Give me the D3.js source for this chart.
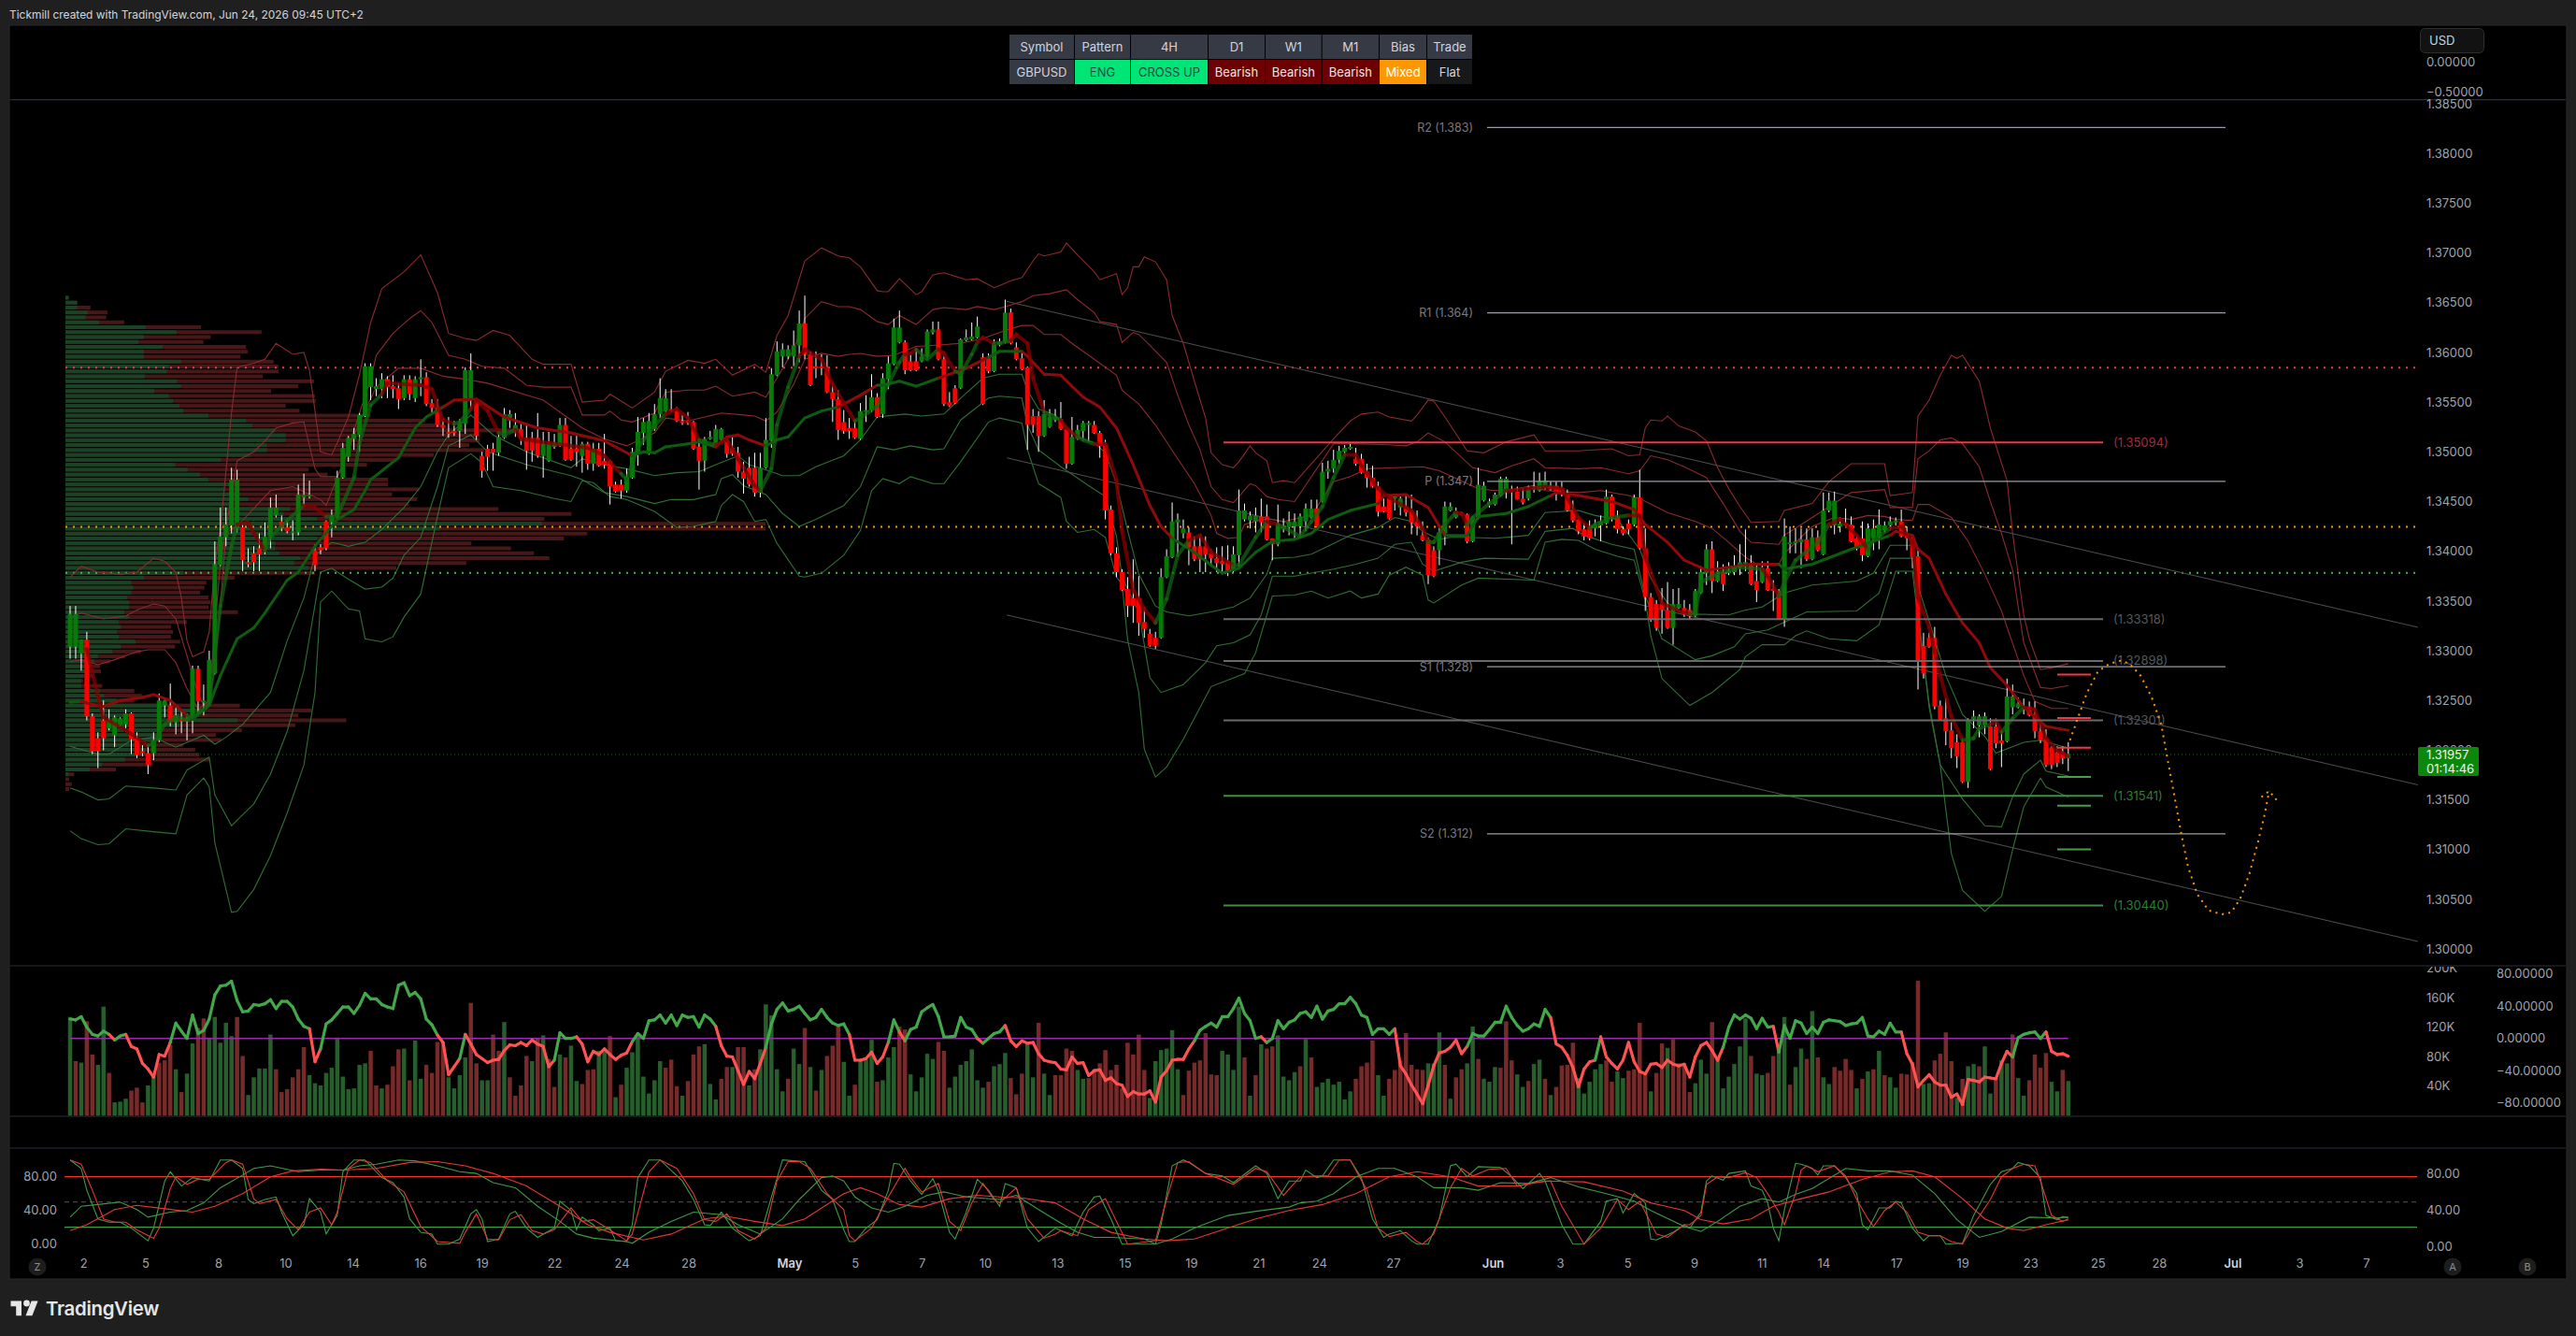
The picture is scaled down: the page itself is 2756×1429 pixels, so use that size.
<!DOCTYPE html>
<html><head><meta charset="utf-8"><title>GBPUSD 4H</title>
<style>html,body{margin:0;background:#1f1f1f}svg{display:block}text{font-family:Inter,"Noto Sans",sans-serif}</style>
<script src="https://cdn.jsdelivr.net/npm/d3@7"></script></head><body><svg id="chart" width="2756" height="1429"></svg>
<script>
// GBPUSD 4H candles as [open, high, low, close] in 1/10000ths of a dollar
const candlesApril=[[13304,13345,13292,13337],[13304,13345,13292,13337],[13297,13311,13280,13311],[13311,13319,13230,13234],[13234,13237,13196,13199],[13212,13218,13182,13199],[13230,13250,13200,13212],[13222,13241,13220,13230],[13215,13235,13203,13233],[13225,13233,13224,13232],
[13226,13241,13222,13237],[13237,13238,13196,13211],[13212,13218,13192,13195],[13199,13205,13194,13197],[13197,13205,13176,13185],[13197,13218,13190,13210],[13210,13257,13208,13250],[13245,13253,13233,13250],[13245,13267,13224,13228],[13228,13243,13216,13235],
[13231,13241,13217,13229],[13231,13237,13210,13229],[13231,13285,13217,13282],[13282,13285,13235,13249],[13248,13266,13235,13250],[13248,13300,13246,13291],[13277,13410,13276,13387],[13386,13444,13385,13415],[13414,13444,13405,13427],[13426,13484,13418,13472],
[13423,13482,13419,13472],[13424,13427,13380,13391],[13389,13403,13384,13387],[13398,13405,13380,13389],[13403,13418,13380,13397],[13402,13429,13397,13415],[13415,13454,13403,13444],[13436,13457,13434,13444],[13430,13436,13420,13424],[13424,13431,13418,13420],
[13419,13431,13411,13420],[13419,13467,13416,13457],[13454,13478,13446,13457],[13455,13471,13453,13457],[13401,13407,13380,13386],[13404,13407,13397,13401],[13430,13431,13401,13403],[13429,13442,13414,13436],[13435,13481,13434,13474],[13474,13509,13473,13504],
[13495,13516,13490,13514],[13513,13524,13502,13518],[13517,13539,13500,13537],[13536,13589,13535,13586],[13565,13589,13552,13586],[13563,13574,13556,13566],[13563,13579,13554,13573],[13573,13576,13554,13565],[13566,13577,13554,13563],[13564,13569,13543,13553],
[13554,13577,13552,13573],[13573,13577,13552,13558],[13554,13576,13550,13573],[13573,13593,13556,13575],[13575,13580,13546,13548],[13549,13553,13539,13544],[13545,13553,13525,13527],[13527,13533,13516,13524],[13520,13535,13514,13518],[13521,13531,13516,13519],
[13521,13533,13504,13530],[13528,13585,13518,13582],[13552,13599,13544,13582],[13553,13554,13512,13516],[13496,13500,13474,13481],[13503,13507,13481,13495],[13503,13509,13481,13499],[13499,13518,13496,13515],[13514,13544,13513,13538],[13531,13542,13524,13538],
[13522,13539,13515,13527],[13523,13528,13507,13514],[13514,13528,13482,13501],[13514,13520,13490,13501],[13514,13539,13494,13496],[13496,13520,13474,13508],[13491,13520,13490,13508],[13505,13518,13503,13509],[13506,13534,13505,13527],[13527,13534,13491,13492],
[13503,13516,13491,13492],[13503,13516,13485,13500],[13496,13510,13479,13508],[13508,13510,13482,13488],[13488,13509,13481,13503],[13503,13509,13485,13486],[13491,13518,13483,13487],[13491,13492,13447,13465],[13467,13470,13459,13460],[13467,13472,13453,13461],
[13461,13483,13459,13475],[13474,13504,13473,13500],[13499,13535,13486,13520],[13519,13534,13507,13530],[13498,13539,13497,13531],[13523,13548,13521,13538],[13538,13574,13534,13554],[13541,13563,13540,13554],[13543,13563,13540,13541],[13541,13545,13530,13531],
[13531,13537,13527,13529],[13531,13540,13527,13529],[13530,13531,13502,13503],[13505,13510,13462,13491],[13491,13515,13480,13513],[13513,13521,13512,13515],[13506,13527,13505,13523],[13512,13524,13509,13523],[13512,13515,13494,13498],[13504,13515,13496,13498],
[13499,13505,13474,13480],[13480,13490,13458,13473],[13484,13495,13465,13467],[13484,13499,13455,13459],[13459,13499,13454,13484],[13484,13534,13483,13512],[13511,13584,13504,13578],[13577,13611,13576,13601],[13596,13609,13585,13603]];
const candlesMay=[[13596,13607,13593,13603],[13596,13622,13586,13607],[13607,13642,13590,13629],[13629,13657,13593,13598],[13598,13601,13566,13567],[13586,13601,13574,13584],[13586,13598,13577,13584],[13585,13597,13559,13560],[13560,13568,13530,13553],[13553,13562,13512,13522],
[13530,13542,13518,13521],[13524,13534,13513,13521],[13524,13532,13513,13514],[13513,13549,13512,13541],[13540,13557,13530,13542],[13542,13578,13540,13555],[13555,13559,13534,13535],[13538,13579,13534,13574],[13573,13596,13563,13589],[13588,13634,13587,13625],
[13610,13642,13609,13625],[13610,13612,13578,13582],[13591,13598,13581,13582],[13591,13604,13581,13582],[13591,13604,13590,13596],[13596,13623,13595,13621],[13620,13631,13618,13623],[13623,13631,13592,13593],[13593,13596,13546,13548],[13550,13560,13545,13546],
[13564,13567,13548,13549],[13564,13614,13563,13613],[13612,13623,13611,13615],[13613,13630,13612,13616],[13615,13636,13614,13626],[13595,13599,13547,13548],[13595,13599,13579,13581],[13581,13613,13580,13608],[13608,13614,13606,13611],[13610,13653,13609,13640],
[13640,13644,13608,13609],[13605,13610,13592,13593],[13594,13601,13582,13583],[13585,13586,13502,13527],[13536,13543,13519,13527],[13536,13541,13500,13516],[13516,13552,13515,13538],[13525,13543,13524,13535],[13532,13543,13530,13535],[13533,13550,13522,13523],
[13523,13524,13483,13488],[13488,13535,13487,13515],[13513,13527,13512,13522],[13521,13531,13513,13529],[13527,13531,13510,13529],[13527,13531,13518,13519],[13519,13521,13494,13506],[13507,13512,13432,13441],[13442,13446,13396,13398],[13398,13404,13374,13379],
[13379,13382,13360,13361],[13362,13374,13334,13345],[13353,13392,13328,13345],[13353,13375,13315,13328],[13329,13344,13313,13322],[13317,13322,13304,13305],[13313,13319,13302,13305],[13313,13383,13312,13374],[13374,13402,13373,13395],[13394,13449,13393,13430],
[13429,13438,13394,13432],[13418,13432,13413,13423],[13419,13424,13386,13404],[13405,13415,13390,13392],[13405,13415,13379,13392],[13405,13415,13379,13397],[13398,13402,13386,13393],[13393,13404,13379,13388],[13390,13405,13378,13387],[13390,13406,13375,13380],
[13380,13405,13379,13397],[13396,13462,13382,13441],[13432,13448,13430,13441],[13431,13440,13423,13436],[13430,13444,13419,13436],[13435,13453,13419,13429],[13435,13447,13411,13412],[13413,13413,13391,13407],[13407,13447,13405,13427],[13422,13433,13419,13425],
[13424,13440,13416,13430],[13425,13438,13411,13430],[13425,13438,13413,13435],[13430,13448,13420,13443],[13434,13452,13433,13443],[13443,13452,13424,13425],[13450,13489,13449,13480],[13480,13491,13473,13483],[13483,13502,13479,13492],[13492,13506,13488,13501],
[13500,13507,13496,13504],[13503,13508,13502,13505],[13493,13504,13486,13488],[13493,13498,13478,13479],[13480,13488,13464,13474],[13474,13486,13464,13465],[13465,13470,13435,13440],[13445,13453,13439,13440],[13454,13457,13432,13433],[13453,13457,13441,13455],
[13444,13455,13436,13453],[13445,13456,13435,13439],[13440,13457,13417,13429],[13430,13441,13416,13425],[13416,13430,13410,13411],[13412,13414,13367,13376],[13401,13405,13374,13375]];
const candlesJune=[[13401,13425,13386,13419],[13418,13450,13406,13445],[13441,13449,13440,13445],[13434,13444,13433,13440],[13439,13440,13436,13437],[13437,13438,13408,13410],[13410,13435,13409,13434],[13433,13484,13432,13467],[13451,13470,13450,13466],[13447,13453,13444,13450],
[13447,13459,13446,13457],[13456,13475,13455,13473],[13461,13475,13453,13473],[13462,13466,13407,13460],[13460,13465,13452,13452],[13453,13463,13447,13449],[13453,13466,13451,13462],[13462,13480,13459,13464],[13461,13479,13460,13471],[13464,13480,13462,13471],
[13466,13470,13461,13462],[13466,13470,13451,13460],[13464,13470,13455,13458],[13458,13462,13440,13441],[13442,13451,13429,13431],[13432,13435,13417,13420],[13422,13428,13411,13415],[13425,13431,13411,13413],[13423,13432,13415,13427],[13426,13436,13410,13430],
[13428,13462,13427,13455],[13455,13457,13430,13434],[13435,13441,13418,13422],[13422,13425,13416,13418],[13428,13432,13417,13422],[13427,13457,13425,13454],[13454,13482,13402,13403],[13403,13423,13340,13354],[13354,13358,13329,13332],[13347,13351,13320,13323],
[13347,13363,13317,13341],[13341,13369,13322,13323],[13323,13362,13306,13347],[13343,13363,13342,13347],[13343,13351,13334,13336],[13341,13347,13331,13335],[13335,13362,13334,13360],[13358,13385,13357,13379],[13378,13407,13366,13402],[13402,13410,13358,13370],
[13370,13390,13369,13377],[13379,13387,13360,13367],[13378,13389,13376,13381],[13379,13396,13376,13385],[13384,13407,13376,13389],[13387,13422,13380,13389],[13388,13396,13366,13367],[13370,13387,13349,13361],[13369,13390,13368,13383],[13383,13390,13360,13361],
[13362,13371,13340,13360],[13360,13362,13331,13332],[13332,13433,13324,13415],[13407,13425,13398,13409],[13408,13423,13398,13410],[13409,13423,13383,13412],[13412,13423,13390,13392],[13392,13423,13391,13414],[13414,13421,13400,13401],[13397,13459,13396,13441],
[13441,13459,13439,13451],[13426,13460,13417,13451],[13425,13434,13419,13428],[13428,13443,13425,13426],[13427,13435,13409,13410],[13413,13416,13401,13403],[13413,13430,13390,13396],[13395,13428,13394,13423],[13413,13432,13401,13423],[13414,13442,13402,13427],
[13421,13430,13419,13426],[13426,13435,13421,13430],[13429,13434,13426,13431],[13430,13442,13414,13415],[13417,13425,13401,13413],[13414,13416,13383,13394],[13395,13401,13261,13290],[13305,13318,13272,13277],[13313,13318,13303,13304],[13313,13324,13241,13244],
[13245,13250,13230,13231],[13232,13252,13205,13219],[13220,13228,13192,13202],[13208,13216,13182,13194],[13208,13210,13167,13168],[13168,13232,13162,13231],[13231,13240,13222,13234],[13225,13236,13213,13234],[13225,13238,13216,13234],[13224,13232,13180,13181],
[13224,13232,13202,13207],[13210,13220,13183,13207],[13209,13272,13208,13254],[13243,13266,13236,13254],[13243,13253,13242,13247],[13242,13252,13236,13243],[13244,13249,13234,13235],[13236,13249,13212,13219],[13219,13226,13207,13210],[13212,13221,13183,13185],
[13203,13204,13181,13185],[13198,13204,13183,13187],[13198,13204,13186,13192],[13192,13208,13179,13196]];

// Volume in thousands per bar: positive prints green, negative prints red
const volumeSigned=[134,-74,72,-128,-83,69,148,-58,18,19,23,-34,-38,-18,41,54,-72,-75,-96,63,-32,57,98,-119,-132,105,134,99,126,108,-134,-81,28,52,64,64,110,-63,-32,-36,-52,-63,-93,55,44,41,58,65,106,53,36,37,69,71,-88,-41,37,-42,-67,-90,91,-48,102,50,-69,-58,-100,-100,52,37,55,79,-153,-71,48,48,-110,-88,127,-52,-27,-41,-81,74,-105,109,-77,-39,83,-79,95,47,-43,-62,-63,88,88,-108,25,-42,65,86,108,53,30,48,74,-65,-76,-40,27,-47,-83,-94,97,43,22,-50,-66,66,-93,-93,41,-63,90,151,136,63,33,-50,91,70,-119,66,-34,62,-81,-95,-122,
73,27,-42,76,76,103,-46,48,79,93,-121,-117,56,33,52,84,77,-100,-88,38,53,69,74,90,48,38,-46,67,70,85,-51,-29,-57,98,52,-126,57,28,-55,-55,-91,-88,62,50,-51,-63,-71,-89,-62,-69,-37,-99,-83,-110,-62,24,74,89,91,116,63,-28,-61,-72,-75,-112,-56,-55,88,83,62,148,-79,27,-55,97,-91,-94,109,53,48,59,-67,104,-79,39,45,50,42,46,22,33,-50,-67,-72,-102,55,27,-50,-62,-75,-112,-69,-63,-62,71,71,113,-69,23,-52,-63,71,121,-77,50,46,66,-65,-128,-75,56,39,-47,70,76,-50,28,-39,-68,-69,-99,51,30,46,63,70,-75,-46,60,51,-61,-63,-126,-58,33,-58,-98,92,-104,-71,
-71,-32,44,76,57,-127,77,37,53,70,94,132,-81,57,55,-58,-81,90,134,-42,66,91,-77,142,-79,52,43,-66,-61,-77,-62,37,-50,60,-63,88,-55,52,38,-57,-56,-73,-183,43,44,-75,-84,-113,-74,24,-50,67,70,-67,94,30,-51,75,71,-110,51,27,-48,-83,-65,-85,46,33,-62,47];

// Momentum oscillator, one value per bar
const oscillator=[24,23,27,14,5,3,9,5,-2,3,5,-10,-13,-31,-38,-48,-20,-22,-5,19,9,0,29,6,10,24,54,65,66,71,47,33,34,42,41,43,48,37,46,46,39,24,15,12,-29,-13,18,23,31,39,39,31,41,56,49,49,42,39,37,66,69,53,57,49,24,17,4,-5,-45,-35,-25,5,-7,-20,-25,-30,-27,-26,-15,-8,-9,-5,-9,-2,-7,-10,-35,-27,7,0,0,2,-7,-29,-16,-20,-13,-20,-26,-21,-18,-4,6,0,22,23,29,19,29,16,29,26,27,14,29,24,15,-9,-22,-23,-40,-57,-41,-50,-31,-11,18,36,44,34,36,40,31,23,26,36,26,19,16,
18,5,-27,-27,-25,-17,-31,-23,-5,23,8,-3,11,14,33,38,42,27,2,2,3,26,14,11,0,-6,0,6,8,16,-3,-10,-3,-6,-5,-19,-27,-29,-30,-38,-39,-23,-31,-30,-46,-40,-39,-52,-49,-56,-58,-72,-66,-69,-69,-65,-79,-48,-40,-27,-26,-26,-13,-3,10,15,19,14,27,27,37,50,31,22,0,2,-5,0,22,12,20,23,31,33,26,40,24,34,36,43,43,51,43,29,26,5,12,12,5,12,-34,-44,-58,-69,-81,-58,-34,-18,-16,-11,-2,-19,-10,6,3,3,11,20,20,40,26,16,9,12,18,15,36,26,-7,-11,-21,-36,-60,-38,-29,-27,2,-23,-31,-38,-27,-5,-29,-41,-44,-32,-31,-36,-27,-32,-34,
-32,-48,-23,-9,-5,-15,-27,-11,14,29,24,29,25,12,25,14,15,-17,16,0,22,19,6,14,6,20,23,22,21,16,18,19,26,3,2,9,5,19,8,8,-19,-32,-60,-52,-45,-54,-58,-58,-73,-69,-82,-51,-52,-54,-48,-49,-50,-31,-16,-23,1,5,7,8,0,8,-16,-20,-19,-22];

// Stochastic lines as [bar, value]
const stochFastK=[[0,100],[2,90],[3,64],[5,30],[7,26],[9,26],[11,19],[14,4],[15,19],[17,75],[18,86],[20,69],[22,79],[25,75],[27,100],[29,100],[31,90],[32,53],[33,48],[35,53],[37,56],[38,38],[40,10],[42,23],[43,54],[45,38],[46,12],[48,34],[49,86],[51,100],[53,100],[56,79],[58,73],[60,56],[61,30],[63,14],[65,12],[66,0],[68,0],[70,6],[72,36],[73,41],[74,30],[75,3],[77,6],[79,36],[80,39],[82,19],[84,8],[87,19],[88,51],[90,40],[91,17],[92,32],[94,23],[95,16],[97,19],[98,4],[100,3],[101,23],[102,79],[104,100],[106,100],[110,75],[112,53],[114,23],[115,22],[117,38],[119,19],[122,4],[124,10],[126,56],[128,100],[130,99],[132,98],[135,64],[137,53],[139,17],[140,3],[141,3],[143,19],[145,29],[147,64],[148,96],[149,95],[151,75],[153,59],[155,78],[156,63],[158,14],[159,6],[161,38],[163,77],[165,64],[167,45],[168,72],[170,67],[172,19],[174,3],[177,19],[180,10],[182,38],[184,56],[185,57],[187,30],[189,0],[191,0],[195,0],[196,23],[198,93],[200,100],[201,97],[204,84],[207,81],[209,73],[213,93],[215,84],[217,54],[219,75],[221,75],[222,88],[224,79],[225,81],[227,100],[230,100],[232,79],[234,30],[236,8],[237,12],[239,16],[241,4],[242,0],[244,0],[246,30],[248,93],[249,95],[251,80],[253,92],[257,91],[259,80],[261,66],[264,84],[265,75],[268,23],[270,0],[272,0],[275,27],[276,51],[278,54],[279,37],[281,60],[283,49],[284,6],[285,5],[288,14],[290,23],[291,19],[293,38],[294,75],[295,81],[297,76],[298,84],[301,87],[302,69],[304,64],[305,49],[306,19],[307,4],[308,41],[310,96],[311,95],[313,90],[314,82],[315,93],[317,93],[319,79],[321,60],[322,23],[323,17],[325,43],[327,43],[328,51],[329,49],[331,19],[333,4],[334,10],[336,10],[337,0],[340,1],[342,34],[345,71],[347,86],[349,90],[350,97],[352,93],[354,79],[355,34],[357,29],[358,33],[359,31]];
const stochFastD=[[0,100],[2,95],[4,64],[6,30],[8,26],[10,26],[12,17],[15,7],[16,19],[18,66],[19,80],[21,71],[23,77],[25,77],[28,97],[29,100],[31,95],[33,54],[34,48],[37,53],[39,30],[41,17],[43,38],[45,43],[47,23],[48,38],[50,90],[52,100],[54,97],[57,75],[60,62],[63,21],[66,3],[70,1],[71,14],[73,36],[75,6],[77,5],[79,29],[81,35],[83,16],[85,12],[87,17],[90,43],[92,27],[94,29],[96,21],[100,4],[101,12],[104,86],[106,100],[109,90],[112,60],[114,29],[116,27],[118,36],[120,16],[123,6],[125,19],[127,75],[129,98],[131,98],[133,90],[136,60],[139,41],[140,10],[141,4],[144,19],[147,56],[150,90],[151,79],[153,62],[156,72],[158,27],[160,16],[162,49],[164,72],[166,53],[167,49],[170,67],[172,30],[175,7],[177,12],[178,16],[181,10],[183,41],[186,54],[188,27],[190,0],[195,4],[197,53],[199,97],[201,98],[204,84],[209,71],[213,90],[215,86],[218,58],[221,80],[224,81],[226,81],[228,100],[230,100],[233,64],[235,19],[237,9],[240,14],[242,3],[243,0],[245,12],[248,67],[250,90],[252,81],[255,89],[258,90],[260,69],[263,73],[266,75],[268,45],[272,0],[275,19],[278,53],[280,41],[282,51],[285,12],[287,8],[290,23],[291,23],[293,34],[294,71],[296,80],[298,79],[301,85],[303,79],[305,60],[307,38],[308,23],[310,60],[311,88],[312,93],[314,86],[317,93],[319,81],[321,53],[323,30],[324,21],[326,40],[328,50],[330,38],[332,14],[334,10],[336,10],[338,3],[340,0],[342,23],[345,53],[347,80],[349,90],[351,95],[353,93],[354,75],[356,34],[358,27],[359,30]];
const stochSlowK=[[0,32],[2,45],[5,47],[9,50],[12,41],[14,32],[18,38],[21,40],[24,49],[27,67],[31,82],[33,90],[36,93],[41,86],[45,88],[49,88],[52,93],[55,95],[59,100],[62,99],[66,93],[70,86],[73,84],[76,73],[80,67],[84,45],[88,27],[91,12],[94,7],[100,3],[101,1],[104,14],[108,27],[112,38],[117,35],[120,23],[124,12],[128,30],[131,53],[135,79],[137,81],[139,75],[141,56],[144,43],[147,38],[150,45],[154,58],[157,62],[161,56],[167,53],[170,58],[174,41],[178,25],[181,14],[184,8],[187,8],[193,6],[195,0],[198,6],[202,19],[208,34],[213,39],[219,44],[221,49],[224,51],[227,60],[231,80],[235,90],[238,90],[242,80],[245,67],[250,67],[253,64],[257,73],[262,72],[266,79],[271,68],[276,60],[281,51],[284,40],[290,21],[293,15],[296,27],[300,45],[304,54],[307,50],[310,59],[313,66],[319,90],[323,87],[327,87],[331,82],[335,60],[339,29],[343,8],[347,15],[352,32],[357,31],[359,32]];
const stochSlowD=[[0,16],[3,23],[8,41],[12,46],[17,42],[22,38],[26,45],[31,60],[36,80],[40,87],[45,89],[49,88],[55,90],[61,97],[66,98],[71,93],[76,84],[82,69],[88,45],[93,23],[97,14],[103,5],[108,12],[114,30],[118,33],[123,27],[128,22],[132,30],[139,60],[142,67],[145,60],[149,47],[153,44],[158,54],[163,58],[167,56],[171,55],[177,49],[182,30],[187,14],[193,6],[197,4],[202,6],[208,19],[213,30],[219,40],[225,47],[231,60],[237,80],[242,86],[248,80],[253,69],[260,69],[265,75],[272,74],[279,63],[284,49],[290,40],[293,29],[297,24],[302,30],[306,45],[311,54],[316,62],[322,77],[327,86],[331,87],[335,80],[340,54],[344,30],[348,19],[351,16],[355,23],[359,29]];

// Volatility envelopes as [bar, price in 1/10000ths]
const bandUpper3=[[0,13374],[2,13385],[5,13379],[9,13377],[12,13379],[15,13393],[17,13390],[19,13379],[20,13353],[21,13310],[22,13294],[24,13299],[25,13319],[26,13388],[27,13422],[29,13539],[30,13585],[33,13589],[35,13593],[37,13609],[40,13598],[42,13600],[43,13582],[45,13500],[47,13497],[48,13509],[50,13535],[52,13578],[54,13630],[56,13664],[60,13681],[63,13698],[66,13660],[68,13619],[71,13614],[73,13612],[76,13622],[79,13617],[83,13593],[85,13588],[90,13588],[92,13550],[96,13552],[97,13558],[99,13551],[101,13544],[105,13560],[107,13581],[111,13592],[114,13589],[116,13593],[119,13577],[123,13588],[125,13580],[127,13617],[129,13637],[132,13692],[135,13705],[138,13697],[140,13695],[142,13686],[145,13662],[146,13661],[147,13661],[149,13674],[152,13658],[153,13661],[155,13678],[157,13680],[161,13673],[163,13674],[166,13665],[167,13667],[169,13672],[171,13675],[173,13692],[174,13699],[175,13697],[178,13701],[179,13710],[181,13698],[184,13681],[185,13673],[188,13679],[189,13658],[190,13665],[191,13686],[192,13686],[193,13696],[195,13691],[197,13673],[198,13637],[200,13609],[202,13571],[204,13534],[205,13499],[207,13487],[209,13484],[210,13490],[212,13506],[213,13499],[215,13491],[216,13469],[218,13471],[220,13469],[227,13513],[230,13531],[232,13538],[235,13540],[237,13535],[241,13531],[242,13537],[244,13552],[245,13551],[247,13535],[251,13501],[254,13499],[258,13510],[263,13517],[265,13501],[271,13501],[277,13503],[280,13496],[282,13497],[283,13524],[284,13532],[286,13531],[287,13536],[289,13526],[292,13520],[294,13511],[296,13484],[298,13463],[300,13445],[302,13429],[307,13430],[308,13441],[313,13448],[316,13470],[320,13488],[326,13488],[327,13456],[331,13459],[332,13536],[334,13552],[336,13577],[338,13597],[339,13594],[340,13597],[343,13571],[345,13524],[348,13471],[349,13418],[351,13336],[352,13312],[354,13281],[356,13283],[359,13287]];
const bandUpper2=[[0,13333],[2,13338],[6,13332],[10,13335],[12,13341],[15,13347],[17,13345],[19,13332],[21,13295],[23,13256],[24,13245],[25,13250],[26,13323],[27,13388],[30,13491],[33,13500],[35,13511],[37,13524],[40,13529],[42,13530],[44,13483],[45,13475],[48,13475],[49,13487],[52,13539],[54,13573],[55,13597],[58,13619],[61,13634],[63,13642],[65,13630],[68,13597],[71,13593],[74,13586],[78,13584],[82,13567],[85,13565],[90,13565],[92,13537],[96,13537],[97,13541],[99,13532],[101,13530],[105,13539],[107,13560],[111,13562],[114,13562],[116,13566],[119,13556],[123,13560],[125,13555],[127,13574],[130,13603],[132,13634],[135,13651],[138,13646],[140,13646],[142,13643],[145,13631],[147,13628],[149,13637],[152,13628],[155,13643],[157,13645],[161,13643],[163,13646],[166,13643],[168,13646],[171,13651],[173,13657],[176,13659],[179,13663],[181,13653],[184,13640],[185,13631],[188,13628],[189,13610],[191,13620],[192,13618],[194,13607],[197,13590],[199,13557],[201,13527],[203,13502],[205,13465],[207,13452],[209,13449],[210,13455],[212,13468],[213,13466],[215,13455],[217,13452],[220,13450],[227,13508],[231,13508],[237,13507],[240,13506],[242,13510],[244,13519],[247,13510],[252,13484],[256,13479],[259,13486],[263,13493],[265,13484],[271,13483],[275,13484],[280,13478],[282,13481],[284,13496],[287,13492],[290,13485],[294,13474],[297,13448],[300,13420],[302,13409],[307,13407],[308,13416],[313,13434],[320,13459],[326,13462],[327,13444],[331,13444],[332,13493],[334,13501],[336,13512],[338,13514],[340,13508],[343,13485],[345,13450],[347,13418],[349,13381],[351,13308],[354,13263],[356,13262],[359,13265]];
const bandUpper1=[[0,13289],[2,13291],[5,13286],[8,13291],[12,13299],[14,13301],[17,13301],[19,13288],[21,13262],[23,13241],[25,13250],[26,13284],[27,13345],[28,13418],[31,13431],[36,13461],[40,13465],[45,13452],[46,13446],[48,13474],[52,13530],[55,13565],[59,13584],[63,13584],[67,13576],[71,13573],[75,13569],[85,13552],[92,13524],[96,13513],[100,13506],[105,13519],[107,13534],[111,13531],[114,13535],[117,13539],[121,13537],[123,13536],[125,13531],[127,13540],[130,13568],[132,13593],[135,13599],[138,13596],[140,13598],[142,13599],[145,13596],[148,13597],[152,13606],[155,13607],[160,13609],[164,13614],[168,13622],[171,13627],[173,13627],[175,13618],[178,13618],[180,13609],[184,13593],[188,13577],[189,13562],[192,13548],[195,13527],[199,13493],[202,13468],[205,13436],[206,13418],[208,13413],[210,13414],[211,13427],[214,13432],[216,13432],[218,13430],[223,13436],[227,13470],[230,13475],[233,13483],[238,13484],[243,13485],[246,13481],[253,13463],[256,13461],[260,13463],[263,13466],[265,13461],[271,13459],[275,13461],[280,13456],[282,13453],[287,13439],[292,13430],[295,13423],[298,13409],[301,13394],[303,13387],[307,13387],[308,13398],[313,13425],[317,13434],[320,13432],[323,13436],[326,13435],[328,13432],[331,13431],[332,13447],[334,13447],[338,13434],[341,13410],[344,13377],[347,13340],[351,13275],[353,13249],[356,13242],[359,13242]];
const bandLower1=[[0,13204],[5,13196],[7,13196],[11,13210],[15,13213],[19,13203],[24,13215],[26,13206],[28,13213],[31,13226],[36,13258],[39,13310],[42,13353],[44,13396],[47,13409],[50,13405],[53,13409],[56,13422],[60,13444],[63,13465],[66,13500],[68,13517],[72,13537],[76,13517],[82,13500],[90,13484],[92,13493],[96,13487],[100,13483],[105,13476],[109,13479],[113,13480],[116,13487],[120,13496],[122,13487],[125,13482],[128,13476],[131,13476],[134,13485],[139,13496],[142,13512],[145,13535],[150,13538],[153,13536],[157,13538],[160,13554],[164,13574],[167,13578],[171,13578],[172,13562],[174,13543],[177,13537],[179,13524],[181,13515],[184,13509],[186,13499],[188,13468],[190,13421],[192,13377],[195,13345],[197,13339],[201,13335],[205,13339],[209,13344],[212,13353],[215,13377],[216,13393],[220,13394],[223,13397],[226,13405],[230,13416],[235,13424],[238,13434],[241,13430],[243,13420],[246,13412],[248,13414],[251,13414],[256,13413],[262,13416],[265,13439],[271,13441],[274,13436],[278,13432],[282,13402],[284,13373],[287,13348],[290,13337],[298,13336],[301,13341],[304,13344],[308,13358],[313,13366],[321,13370],[324,13378],[327,13406],[331,13406],[332,13365],[334,13330],[337,13275],[340,13236],[344,13214],[346,13197],[351,13208],[354,13210],[359,13202]];
const bandLower2=[[0,13162],[2,13158],[5,13150],[7,13151],[10,13164],[15,13162],[19,13160],[21,13180],[25,13193],[26,13155],[29,13124],[33,13146],[36,13176],[39,13219],[42,13280],[45,13379],[47,13383],[50,13372],[53,13362],[56,13364],[58,13373],[60,13396],[63,13414],[66,13465],[68,13506],[72,13517],[75,13500],[82,13487],[90,13476],[92,13472],[96,13459],[100,13455],[105,13448],[108,13452],[112,13452],[116,13457],[117,13473],[119,13477],[121,13466],[125,13457],[128,13438],[131,13425],[134,13432],[139,13446],[142,13465],[145,13505],[148,13502],[151,13506],[155,13502],[157,13503],[160,13532],[165,13554],[167,13556],[171,13554],[172,13527],[174,13502],[178,13485],[183,13466],[186,13455],[188,13415],[189,13374],[192,13339],[194,13273],[196,13258],[200,13266],[204,13288],[206,13305],[209,13308],[212,13316],[214,13336],[216,13375],[220,13375],[223,13378],[227,13382],[231,13387],[235,13393],[238,13407],[241,13409],[243,13387],[245,13380],[250,13389],[254,13393],[262,13392],[265,13420],[270,13423],[272,13416],[277,13407],[281,13402],[283,13355],[286,13312],[292,13291],[295,13295],[299,13304],[301,13317],[305,13321],[312,13339],[321,13340],[325,13358],[327,13393],[331,13393],[332,13340],[334,13243],[336,13185],[340,13151],[344,13124],[347,13123],[349,13153],[351,13176],[354,13190],[355,13179],[359,13174]];
const bandLower3=[[0,13119],[2,13111],[5,13105],[7,13106],[10,13121],[15,13118],[19,13116],[21,13155],[24,13172],[25,13163],[26,13107],[29,13037],[30,13038],[33,13060],[36,13094],[39,13137],[42,13185],[44,13258],[45,13349],[47,13360],[50,13342],[52,13340],[53,13312],[56,13309],[58,13314],[60,13334],[63,13357],[66,13435],[68,13484],[72,13498],[74,13489],[76,13465],[81,13461],[87,13453],[90,13450],[92,13471],[94,13469],[97,13455],[100,13452],[105,13440],[109,13424],[112,13425],[116,13430],[117,13446],[119,13457],[121,13450],[123,13430],[125,13432],[127,13408],[131,13375],[132,13374],[135,13378],[139,13396],[142,13421],[144,13461],[146,13473],[149,13468],[151,13475],[155,13468],[157,13468],[160,13490],[165,13530],[167,13534],[171,13529],[172,13502],[174,13468],[178,13454],[179,13430],[181,13419],[184,13422],[186,13414],[188,13374],[189,13367],[190,13311],[192,13258],[193,13201],[195,13173],[197,13183],[200,13211],[205,13264],[211,13277],[213,13298],[216,13355],[220,13356],[223,13360],[226,13353],[230,13360],[232,13353],[235,13357],[237,13376],[240,13384],[243,13376],[244,13351],[245,13348],[250,13366],[253,13373],[263,13371],[265,13409],[268,13412],[271,13411],[274,13402],[278,13395],[281,13391],[283,13351],[284,13315],[286,13272],[291,13245],[295,13258],[300,13281],[301,13294],[304,13306],[308,13306],[310,13315],[312,13320],[316,13312],[321,13310],[325,13326],[327,13362],[328,13380],[331,13380],[332,13332],[334,13247],[336,13185],[338,13096],[340,13059],[344,13038],[347,13053],[349,13100],[351,13143],[354,13172],[355,13163],[359,13153]];

// Moving averages as [bar, price, rising flag]
const slowAverage=[[0,13248,1],[2,13249,1],[4,13246,0],[6,13244,0],[9,13250,0],[13,13253,0],[15,13256,0],[18,13250,0],[21,13235,0],[22,13231,1],[25,13245,1],[27,13275,1],[30,13312,1],[33,13323,1],[35,13338,1],[39,13371,1],[41,13379,1],[44,13405,1],[48,13432,1],[51,13442,1],[53,13461,1],[54,13472,1],[59,13494,1],[62,13524,1],[64,13535,1],[67,13545,1],[69,13552,0],[73,13553,0],[78,13535,0],[84,13524,0],[90,13519,0],[96,13511,0],[101,13496,0],[103,13500,1],[105,13499,1],[107,13505,1],[111,13508,1],[113,13510,1],[116,13505,1],[118,13515,0],[120,13517,0],[122,13512,0],[125,13506,0],[127,13512,1],[129,13515,1],[132,13534,1],[135,13541,1],[138,13545,1],[142,13557,0],[145,13567,0],[146,13567,1],[149,13571,1],[152,13566,1],[156,13574,1],[161,13584,0],[165,13595,0],[167,13601,1],[171,13601,1],[172,13596,0],[175,13578,0],[178,13577,0],[182,13555,0],[185,13545,0],[188,13524,0],[191,13487,0],[194,13446,0],[196,13425,0],[198,13413,0],[202,13399,1],[205,13386,1],[207,13378,1],[210,13383,1],[213,13399,1],[216,13410,1],[220,13412,1],[223,13418,1],[226,13432,1],[230,13441,1],[235,13448,1],[236,13456,0],[240,13457,0],[244,13444,0],[247,13416,0],[251,13416,1],[253,13435,1],[258,13438,1],[262,13445,1],[266,13456,1],[267,13459,0],[271,13456,0],[277,13450,0],[281,13442,0],[283,13427,0],[287,13409,0],[290,13391,0],[294,13381,0],[302,13387,0],[307,13387,0],[308,13382,1],[313,13387,1],[320,13402,1],[327,13416,1],[328,13420,0],[331,13416,0],[332,13402,0],[334,13393,0],[337,13357,0],[340,13328,0],[343,13308,0],[345,13283,0],[348,13265,0],[351,13243,0],[355,13224,0],[359,13220,0]];
const fastAverage=[[3,13302,0],[5,13254,0],[6,13233,0],[10,13220,0],[14,13205,0],[15,13207,1],[17,13226,1],[19,13233,1],[21,13231,1],[23,13237,1],[25,13247,1],[27,13345,1],[29,13405,1],[30,13427,1],[32,13429,0],[33,13418,0],[35,13401,0],[36,13414,1],[39,13431,1],[42,13446,1],[44,13444,0],[46,13435,0],[48,13435,1],[51,13474,1],[52,13509,1],[54,13547,1],[56,13558,1],[57,13569,0],[63,13567,0],[65,13563,0],[67,13532,0],[69,13528,0],[70,13530,1],[72,13543,1],[73,13552,0],[75,13541,0],[77,13519,0],[78,13517,1],[80,13522,1],[81,13513,0],[86,13509,0],[93,13504,0],[96,13496,0],[99,13478,0],[100,13472,1],[102,13504,1],[105,13526,1],[107,13538,1],[109,13543,0],[111,13534,0],[113,13512,0],[114,13510,1],[116,13507,1],[118,13512,0],[120,13493,0],[123,13466,0],[124,13461,0],[126,13483,1],[127,13527,1],[129,13565,1],[131,13596,1],[132,13603,0],[135,13593,0],[137,13568,0],[139,13549,0],[141,13531,0],[142,13534,1],[145,13546,1],[147,13568,1],[149,13590,1],[150,13598,1],[151,13599,0],[152,13603,0],[154,13593,1],[156,13603,1],[157,13599,0],[159,13581,0],[160,13578,1],[162,13598,1],[163,13610,1],[164,13615,0],[166,13609,0],[167,13609,1],[169,13612,1],[170,13618,0],[172,13609,0],[173,13574,0],[175,13540,0],[176,13537,1],[178,13532,1],[179,13524,0],[181,13515,0],[182,13512,1],[184,13508,1],[186,13508,0],[188,13471,0],[189,13421,0],[191,13361,0],[193,13342,0],[195,13328,0],[197,13352,1],[199,13396,1],[201,13411,1],[203,13416,0],[205,13399,0],[209,13386,0],[210,13386,1],[213,13414,1],[215,13430,1],[217,13427,0],[221,13415,1],[223,13430,1],[225,13445,1],[227,13474,1],[229,13497,1],[231,13497,0],[232,13486,0],[235,13463,0],[237,13454,0],[241,13441,0],[243,13423,0],[244,13409,0],[245,13409,1],[247,13427,1],[249,13439,1],[250,13438,0],[251,13427,0],[252,13434,1],[255,13448,1],[258,13461,1],[259,13461,0],[262,13463,0],[265,13465,0],[268,13463,0],[271,13434,0],[273,13423,0],[274,13427,1],[277,13434,1],[280,13436,1],[282,13436,0],[283,13394,0],[286,13348,0],[289,13340,0],[291,13337,0],[292,13339,1],[293,13369,1],[296,13378,1],[300,13384,1],[304,13382,1],[305,13375,0],[307,13355,0],[308,13369,1],[310,13391,1],[314,13409,1],[316,13427,1],[318,13432,0],[321,13416,0],[323,13402,0],[324,13411,1],[327,13423,1],[329,13425,0],[331,13409,0],[332,13353,0],[334,13324,0],[336,13275,0],[338,13234,0],[340,13210,0],[342,13212,1],[343,13222,1],[345,13226,1],[346,13230,0],[347,13218,0],[349,13232,1],[351,13243,1],[353,13241,0],[355,13212,0],[357,13200,0],[359,13194,0]];

// Volume-by-price rows, top to bottom, bought share and total
const profileUp=[8,28,28,53,48,81,193,266,188,175,233,188,188,278,248,243,190,268,278,213,248,258,273,283,343,433,448,503,528,528,483,483,443,373,263,293,323,343,403,383,418,438,403,538,523,603,1143,898,613,603,503,503,513,563,548,583,283,188,158,163,158,148,153,153,141,153,128,133,123,128,168,133,113,78,68,58,53,43,38,38,83,93,123,243,333,273,413,273,233,223,213,173,193,173,143,88,58,8,0,0,0];
const profileTotal=[8,28,60,101,98,141,325,470,348,331,433,437,419,499,511,511,473,596,558,493,598,600,528,561,731,863,903,1093,993,993,968,1003,883,793,723,583,628,773,773,848,783,843,823,1038,1213,1148,1678,1678,1251,1195,973,1068,1123,1160,961,793,598,406,338,333,323,343,348,343,413,363,291,253,258,253,275,263,181,143,108,83,85,68,43,88,165,183,165,418,590,558,673,551,423,361,373,283,311,321,345,208,121,21,9,15,9];
const profileHighPrice=1.36568, profileBinSize=0.000494, profileMax=1678;

// Axis ticks and labels
const priceTicks=[1.385,1.38,1.375,1.37,1.365,1.36,1.355,1.35,1.345,1.34,1.335,1.33,1.325,1.32,1.315,1.31,1.305,1.3];
const upperPaneTicks=[0,-0.5];
const volumeTicks=[40,80,120,160,200];
const oscillatorTicks=[80,40,0,-40,-80];
const stochTicks=[80,40,0];
const dateBars=[2.4,13.5,26.6,38.7,50.8,62.9,74,87,99.1,111.1,129.2,141,153,164.4,177.4,189.5,201.4,213.5,224.4,237.7,255.6,267.7,279.8,291.8,303.9,315,328.1,340,352.2,364.3,375.3,388.5,400.5,412.5];
const dateLabels=["2","5","8","10","14","16","19","22","24","28","May","5","7","10","13","15","19","21","24","27","Jun","3","5","9","11","14","17","19","23","25","28","Jul","3","7"];

// Price levels
const swingLevels=[{p:1.35846,c:"#f23645"},{p:1.34245,c:"#ff9800"},{p:1.33783,c:"#4caf50"}];
const zoneLevels=[{p:1.35094,c:"#f23645",l:"#a8293a"},{p:1.33318,c:"#6a6a6a",l:"#55585f"},{p:1.32898,c:"#6a6a6a",l:"#55585f"},{p:1.32301,c:"#6a6a6a",l:"#55585f"},{p:1.31541,c:"#3f8f43",l:"#2f7d33"},{p:1.3044,c:"#3f8f43",l:"#2f7d33"}];
const pivotLevels=[{n:"R2",p:1.3826,t:"1.383"},{n:"R1",p:1.36397,t:"1.364"},{n:"P",p:1.34703,t:"1.347"},{n:"S1",p:1.32839,t:"1.328"},{n:"S2",p:1.3116,t:"1.312"}];
const targetStubs=[{p:1.3276,c:"#f23645"},{p:1.32324,c:"#f23645"},{p:1.32025,c:"#f23645"},{p:1.31732,c:"#43a047"},{p:1.31442,c:"#43a047"},{p:1.31002,c:"#43a047"}];
const channelLines=[[168.3,1.36512,421.8,1.33236],[168.3,1.34939,421.8,1.31652],[168.3,1.33359,421.8,1.30077]];
const projectionPath=[[359.3,13210],[360.7,13232],[362.3,13257],[364.3,13279],[366.4,13287],[368.4,13290],[370,13287],[372,13275],[374,13253],[375.7,13226],[376.9,13189],[378.1,13153],[379.3,13116],[380.5,13083],[382.2,13055],[384.2,13039],[386.6,13035],[388.3,13037],[389.9,13051],[391.5,13075],[393.1,13108],[394.3,13136],[395.1,13159]];
const projectionHead=[[393.7,13153],[395.1,13159],[396.7,13148]];
const lastPrice=1.31957, countdown="01:14:46";

// Summary table
const tableHeaders=["Symbol","Pattern","4H","D1","W1","M1","Bias","Trade"];
const tableValues=["GBPUSD","ENG","CROSS UP","Bearish","Bearish","Bearish","Mixed","Flat"];
const tableEdges=[1080,1150,1210,1293,1354,1414.7,1476,1527,1576];
const tableFills=["#363a45","#00e676","#00e676","#6d0000","#6d0000","#6d0000","#ff9800","#17181a"];
const tableInk=["#d1d4dc","#363a45","#363a45","#e6e6e6","#e6e6e6","#e6e6e6","#ffffff","#d1d4dc"];

// Scales
const barX=d3.scaleLinear().domain([0,359]).range([75,2212.8]);
const priceY=d3.scaleLinear().domain([1.3,1.38]).range([1015.2,164.1]);
const pipY=v=>priceY(v/1e4);
const upperPaneY=d3.scaleLinear().domain([0,-0.5]).range([66.7,98.7]);
const volumeY=d3.scaleLinear().domain([0,200]).range([1193.3,1035.7]);
const oscillatorY=d3.scaleLinear().domain([-80,80]).range([1179.7,1041.7]);
const stochY=d3.scaleLinear().domain([0,80]).range([1330.7,1258.7]);
const stochAxisY=d3.scaleLinear().domain([0,80]).range([1333.7,1255.7]);
const profileX=d3.scaleLinear().domain([0,profileMax]).range([70,819]);
const bodyWidth=5;

const svg=d3.select("#chart");
const FONT="Inter,'Noto Sans',sans-serif";
const axisInk="#a0a3ab";

// Page, panes and separators
svg.append("rect").attr("width",2756).attr("height",1429).attr("fill","#1f1f1f");
svg.append("rect").attr("x",10).attr("y",27).attr("width",2736).attr("height",1341).attr("fill","#000").attr("stroke","#2b2b2b");
svg.append("defs").append("clipPath").attr("id","volPane").append("rect").attr("x",10).attr("y",1034).attr("width",2736).attr("height",160);
svg.selectAll("line.sep").data([106.7,1033,1194,1228]).join("line").attr("x1",11).attr("x2",2745).attr("y1",d=>d).attr("y2",d=>d).attr("stroke","#2a2e39").attr("stroke-width",1.2);

// Volume-by-price profile
const prof=svg.append("g");
prof.selectAll("rect.t").data(profileTotal).join("rect").attr("class","t").attr("x",profileX(0)).attr("y",(d,i)=>priceY(profileHighPrice-i*profileBinSize)).attr("width",d=>profileX(d)-profileX(0)).attr("height",4).attr("fill","#481717");
prof.selectAll("rect.u").data(profileUp).join("rect").attr("class","u").attr("x",profileX(0)).attr("y",(d,i)=>priceY(profileHighPrice-i*profileBinSize)).attr("width",d=>profileX(d)-profileX(0)).attr("height",4).attr("fill","#1a4326");

// Last price marker and swing levels
svg.append("line").attr("x1",70).attr("x2",2586).attr("y1",priceY(lastPrice)).attr("y2",priceY(lastPrice)).attr("stroke","#1f6b24").attr("stroke-dasharray","1 3");
svg.selectAll("line.sw").data(swingLevels).join("line").attr("class","sw").attr("x1",70).attr("x2",2584).attr("y1",d=>priceY(d.p)).attr("y2",d=>priceY(d.p)).attr("stroke",d=>d.c).attr("stroke-width",2).attr("stroke-dasharray","2 6");

// Descending channel
svg.selectAll("line.ch").data(channelLines).join("line").attr("class","ch").attr("x1",d=>barX(d[0])).attr("y1",d=>priceY(d[1])).attr("x2",d=>barX(d[2])).attr("y2",d=>priceY(d[3])).attr("stroke","#505050").attr("stroke-width",1);

// Envelope lines
const pipLine=d3.line().x(d=>barX(d[0])).y(d=>pipY(d[1]));
[[bandUpper3,"#8c2a30"],[bandUpper2,"#8c2a30"],[bandUpper1,"#8c2a30"],[bandLower1,"#2f7035"],[bandLower2,"#2f7035"],[bandLower3,"#2f7035"]].forEach(([s,c])=>{
  svg.append("path").attr("d",pipLine(s)).attr("fill","none").attr("stroke",c).attr("stroke-width",1.1);
});

// Candles
const candles=[...candlesApril,...candlesMay,...candlesJune];
const cg=svg.append("g");
cg.selectAll("line").data(candles).join("line").attr("x1",(d,i)=>barX(i)).attr("x2",(d,i)=>barX(i)).attr("y1",d=>pipY(d[1])).attr("y2",d=>pipY(d[2])).attr("stroke","#fff").attr("stroke-width",1);
cg.selectAll("rect").data(candles).join("rect").attr("x",(d,i)=>barX(i)-bodyWidth/2).attr("width",bodyWidth).attr("y",d=>pipY(Math.max(d[0],d[3]))).attr("height",d=>Math.max(1.5,Math.abs(pipY(d[0])-pipY(d[3])))).attr("fill",d=>d[3]>=d[0]?"#087a08":"#ff0000");

// Moving averages, coloured per segment
function drawAverage(s,up,down,w){
  d3.pairs(s).forEach(([a,b])=>{
    svg.append("line").attr("x1",barX(a[0])).attr("y1",pipY(a[1])).attr("x2",barX(b[0])).attr("y2",pipY(b[1])).attr("stroke",b[2]?up:down).attr("stroke-width",w).attr("stroke-linecap","round");
  });
}
drawAverage(slowAverage,"#0d5c10","#8f0a0a",3);
drawAverage(fastAverage,"rgba(16,104,16,.72)","rgba(135,0,0,.78)",4);

// Horizontal zones and their labels
const zg=svg.append("g");
zg.selectAll("line").data(zoneLevels).join("line").attr("x1",1309).attr("x2",2250).attr("y1",d=>priceY(d.p)).attr("y2",d=>priceY(d.p)).attr("stroke",d=>d.c).attr("stroke-width",2);
zg.selectAll("text").data(zoneLevels).join("text").attr("x",2261).attr("y",d=>priceY(d.p)+4.5).attr("font-size",13).attr("fill",d=>d.l).text(d=>`(${d.p.toFixed(5)})`);

// Pivot levels
const pg=svg.append("g");
pg.selectAll("line").data(pivotLevels).join("line").attr("x1",1591).attr("x2",2381).attr("y1",d=>priceY(d.p)).attr("y2",d=>priceY(d.p)).attr("stroke","#9a9da5").attr("stroke-width",1.2);
pg.selectAll("text").data(pivotLevels).join("text").attr("x",1576).attr("y",d=>priceY(d.p)+4.5).attr("text-anchor","end").attr("font-size",12.5).attr("fill","#787b86").text(d=>`${d.n} (${d.t})`);

// Target stubs past the last bar
svg.selectAll("line.st").data(targetStubs).join("line").attr("class","st").attr("x1",2201).attr("x2",2237).attr("y1",d=>priceY(d.p)).attr("y2",d=>priceY(d.p)).attr("stroke",d=>d.c).attr("stroke-width",2);

// Projected path
[projectionPath,projectionHead].forEach(s=>svg.append("path").attr("d",pipLine(s)).attr("fill","none").attr("stroke","#ff9800").attr("stroke-width",2).attr("stroke-dasharray","2 5"));

// Volume bars
const vg=svg.append("g").attr("clip-path","url(#volPane)");
vg.selectAll("rect").data(volumeSigned).join("rect").attr("x",(d,i)=>barX(i)-2.25).attr("width",4.5).attr("y",d=>volumeY(Math.abs(d))).attr("height",d=>volumeY(0)-volumeY(Math.abs(d))).attr("fill",d=>d>0?"#265f2c":"#772a2a");

// Oscillator with its zero line
svg.append("line").attr("x1",barX(0)).attr("x2",barX(359)).attr("y1",oscillatorY(0)).attr("y2",oscillatorY(0)).attr("stroke","#9c27b0").attr("stroke-width",1.6);
d3.pairs(oscillator).forEach(([a,b],i)=>{
  svg.append("line").attr("x1",barX(i)).attr("y1",oscillatorY(a)).attr("x2",barX(i+1)).attr("y2",oscillatorY(b)).attr("stroke",b>=0?"#43a84a":"#ff5252").attr("stroke-width",3.2).attr("stroke-linecap","round");
});

// Stochastic pane
[[80,"#f7332b",null],[20,"#43a047",null],[50,"#555","5 4"]].forEach(([v,c,dash])=>{
  svg.append("line").attr("x1",69).attr("x2",2586).attr("y1",stochY(v)).attr("y2",stochY(v)).attr("stroke",c).attr("stroke-width",dash?1:1.2).attr("stroke-dasharray",dash);
});
const stochLine=d3.line().x(d=>barX(d[0])).y(d=>stochY(d[1]));
[[stochFastK,"#3f9c45"],[stochSlowK,"#3f9c45"],[stochSlowD,"#e53935"],[stochFastD,"#e53935"]].forEach(([s,c])=>svg.append("path").attr("d",stochLine(s)).attr("fill","none").attr("stroke",c).attr("stroke-width",1.1));

// Axes
function styleAxis(g,size=13){g.attr("font-family",FONT).attr("font-size",size);g.select(".domain").remove();g.selectAll("text").attr("fill",axisInk);}
svg.append("g").attr("transform","translate(2596,0)").call(d3.axisRight(priceY).tickValues(priceTicks).tickSize(0).tickPadding(0).tickFormat(d3.format(".5f"))).call(styleAxis);
svg.append("g").attr("transform","translate(2596,0)").call(d3.axisRight(upperPaneY).tickValues(upperPaneTicks).tickSize(0).tickPadding(0).tickFormat(d3.format(".5f"))).call(styleAxis);
svg.append("g").attr("clip-path","url(#volPane)").append("g").attr("transform","translate(2596,0)").call(d3.axisRight(volumeY).tickValues(volumeTicks).tickSize(0).tickPadding(0).tickFormat(d=>d+"K")).call(styleAxis);
svg.append("g").attr("transform","translate(2671,0)").call(d3.axisRight(oscillatorY).tickValues(oscillatorTicks).tickSize(0).tickPadding(0).tickFormat(d3.format(".5f"))).call(styleAxis);
svg.append("g").attr("transform","translate(2596,0)").call(d3.axisRight(stochAxisY).tickValues(stochTicks).tickSize(0).tickPadding(0).tickFormat(d3.format(".2f"))).call(styleAxis);
svg.append("g").attr("transform","translate(61,0)").call(d3.axisLeft(stochY).tickValues(stochTicks).tickSize(0).tickPadding(0).tickFormat(d3.format(".2f"))).call(styleAxis);
const dateAxis=d3.axisBottom(barX).tickValues(dateBars).tickSize(0).tickPadding(0).tickFormat((d,i)=>dateLabels[i]);
svg.append("g").attr("transform","translate(0,1347)").call(dateAxis).call(styleAxis).call(g=>g.selectAll("text").attr("dy","0.71em").filter((d,i)=>/[A-Z]/.test(dateLabels[i])).attr("fill","#d1d4dc").attr("font-weight",600));

// Last price tag
svg.append("rect").attr("x",2587).attr("y",799).attr("width",65).attr("height",31).attr("rx",2).attr("fill","#0b870b");
svg.append("text").attr("x",2596).attr("y",812).attr("font-size",13).attr("fill","#f2f2f2").text(lastPrice.toFixed(5));
svg.append("text").attr("x",2596).attr("y",826.5).attr("font-size",13).attr("fill","#f2f2f2").text(countdown);

// Currency selector
svg.append("rect").attr("x",2589.5).attr("y",30.5).attr("width",68).attr("height",26).attr("rx",5).attr("fill","#121212").attr("stroke","#2e2e2e");
svg.append("text").attr("x",2599).attr("y",48).attr("font-size",13).attr("fill","#d1d4dc").text("USD");

// Scale buttons on the date axis
[["Z",40],["A",2624],["B",2704]].forEach(([t,x])=>{
  svg.append("circle").attr("cx",x).attr("cy",1355).attr("r",9.5).attr("fill","#1e1e1e");
  svg.append("text").attr("x",x).attr("y",1359).attr("text-anchor","middle").attr("font-size",11).attr("fill","#8a8d95").text(t);
});

// Summary table
const tbl=svg.append("g");
tableHeaders.forEach((h,i)=>{
  const x=tableEdges[i],w=tableEdges[i+1]-x-1;
  tbl.append("rect").attr("x",x).attr("y",37).attr("width",w).attr("height",26).attr("fill","#363a45");
  tbl.append("rect").attr("x",x).attr("y",64).attr("width",w).attr("height",26).attr("fill",i===0?"#363a45":tableFills[i]);
  tbl.append("text").attr("x",x+w/2).attr("y",54.5).attr("text-anchor","middle").attr("font-size",13).attr("fill","#d1d4dc").text(h);
  tbl.append("text").attr("x",x+w/2).attr("y",81.5).attr("text-anchor","middle").attr("font-size",13).attr("fill",i===0?"#d1d4dc":tableInk[i]).text(tableValues[i]);
});

// Header line and brand mark
svg.append("text").attr("x",10).attr("y",20).attr("font-size",11.95).attr("fill","#d1d4dc").text("Tickmill created with TradingView.com, Jun 24, 2026 09:45 UTC+2");
svg.append("path").attr("transform","translate(11.5,1387.5) scale(0.82)").attr("d","M14 24H7V12H0V5h14v19zM28 24h-8.5L27 5h8.5L28 24z").attr("fill","#e6e6e6");
svg.append("circle").attr("cx",28.5).attr("cy",1394).attr("r",3.4).attr("fill","#e6e6e6");
svg.append("text").attr("x",49).attr("y",1407).attr("font-size",20.4).attr("font-weight",600).attr("fill","#e6e6e6").attr("letter-spacing",-0.3).text("TradingView");
</script></body></html>
